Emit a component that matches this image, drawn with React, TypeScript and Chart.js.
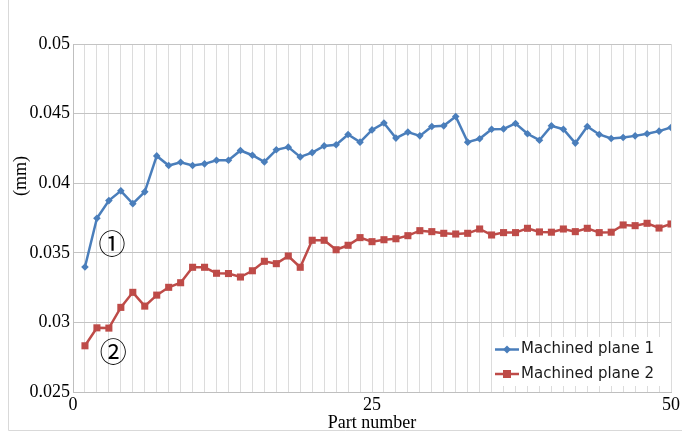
import React, { useEffect, useRef } from "react";
import { Chart, registerables } from "chart.js";

Chart.register(...registerables);

const partNumbers = [
  1, 2, 3, 4, 5, 6, 7, 8, 9, 10, 11, 12, 13, 14, 15, 16, 17, 18, 19, 20, 21, 22, 23, 24, 25,
  26, 27, 28, 29, 30, 31, 32, 33, 34, 35, 36, 37, 38, 39, 40, 41, 42, 43, 44, 45, 46, 47, 48, 49, 50,
];

const plane1 = [
  0.03398, 0.03748, 0.03875, 0.03945, 0.03853, 0.03938, 0.04196, 0.04127, 0.04151, 0.04127,
  0.04139, 0.04165, 0.04165, 0.04235, 0.04201, 0.04153, 0.0424, 0.04259, 0.04189, 0.0422,
  0.04268, 0.04276, 0.0435, 0.04295, 0.04383, 0.04432, 0.04324, 0.04367, 0.0434, 0.04407,
  0.04412, 0.04479, 0.04295, 0.04319, 0.04388, 0.0439, 0.04429, 0.04355, 0.04309, 0.04412,
  0.04388, 0.04288, 0.04407, 0.0435, 0.04321, 0.04328, 0.0434, 0.04355, 0.04374, 0.044,
];

const plane2 = [
  0.02832, 0.02961, 0.02959, 0.03108, 0.03216, 0.03117, 0.03196, 0.03252, 0.03285, 0.03396,
  0.03396, 0.03353, 0.03351, 0.03326, 0.03371, 0.03439, 0.03422, 0.03477, 0.03396, 0.0359,
  0.0359, 0.03522, 0.03554, 0.03609, 0.0358, 0.03594, 0.03601, 0.03623, 0.03659, 0.03652,
  0.0364, 0.03635, 0.0364, 0.03671, 0.03628, 0.03645, 0.03645, 0.03676, 0.0365, 0.03648,
  0.03671, 0.03652, 0.03676, 0.03645, 0.03648, 0.037, 0.03695, 0.03712, 0.03678, 0.03707,
];

const seriesNames = ["Machined plane 1", "Machined plane 2"];
const xLabelValues = [0, 25, 50];
const yMin = 0.025;
const yMax = 0.05;
const yStep = 0.005;
const xMin = 0;
const xMax = 50;
const yTitle = "(mm)";
const xTitle = "Part number";
const annotations = [
  { text: "①", x: 3.26, y: 0.03565 },
  { text: "②", x: 3.37, y: 0.02789 },
];

const BLUE = "#4A7EBB";
const RED = "#BE4B48";
const SERIF = "'Liberation Serif', 'Times New Roman', serif";
const SANS = "'DejaVu Sans', 'Open Sans', sans-serif";

export default function App() {
  const canvasRef = useRef<HTMLCanvasElement | null>(null);

  useEffect(() => {
    const canvas = canvasRef.current;
    if (!canvas) return;

    const overlay = {
      id: "overlay",
      afterDraw(chart: any) {
        const ctx = chart.ctx as CanvasRenderingContext2D;
        const area = chart.chartArea;
        const xs = chart.scales.x;
        const ys = chart.scales.y;
        ctx.save();

        // outer frame
        ctx.strokeStyle = "#d9d9d9";
        ctx.lineWidth = 1;
        ctx.beginPath();
        ctx.moveTo(8.5, 0);
        ctx.lineTo(8.5, 430.5);
        ctx.lineTo(682, 430.5);
        ctx.stroke();

        // y title
        ctx.fillStyle = "#000";
        ctx.font = `18px ${SERIF}`;
        ctx.textAlign = "center";
        ctx.textBaseline = "middle";
        ctx.save();
        ctx.translate(21, 176);
        ctx.rotate(-Math.PI / 2);
        ctx.fillText(yTitle, 0, 0);
        ctx.restore();

        // circled annotations
        ctx.font = `27px 'Noto Sans CJK JP', 'DejaVu Sans', sans-serif`;
        for (const a of annotations) {
          ctx.fillText(a.text, xs.getPixelForValue(a.x), ys.getPixelForValue(a.y));
        }

        // legend
        const lx = area.right - 177;
        const ly = area.bottom - 55;
        ctx.fillStyle = "#fff";
        ctx.fillRect(lx, ly, 177, 49);
        const colors = [BLUE, RED];
        const rows = [ly + 12.5, ly + 37];
        for (let i = 0; i < 2; i++) {
          const y = rows[i];
          ctx.strokeStyle = colors[i];
          ctx.lineWidth = 2.5;
          ctx.beginPath();
          ctx.moveTo(lx + 1, y);
          ctx.lineTo(lx + 25, y);
          ctx.stroke();
          ctx.fillStyle = colors[i];
          const cx = lx + 13;
          if (i === 0) {
            ctx.beginPath();
            ctx.moveTo(cx, y - 4);
            ctx.lineTo(cx + 4, y);
            ctx.lineTo(cx, y + 4);
            ctx.lineTo(cx - 4, y);
            ctx.closePath();
            ctx.fill();
          } else {
            ctx.fillRect(cx - 4, y - 4, 8, 8);
          }
          ctx.fillStyle = "#1a1a1a";
          ctx.font = `15px ${SANS}`;
          ctx.textAlign = "left";
          ctx.textBaseline = "middle";
          ctx.fillText(seriesNames[i], lx + 27, y);
        }
        ctx.restore();
      },
    };

    const chart = new Chart(canvas, {
      type: "line",
      data: {
        datasets: [
          {
            label: seriesNames[0],
            data: partNumbers.map((p, i) => ({ x: p, y: plane1[i] })),
            borderColor: BLUE,
            backgroundColor: BLUE,
            borderWidth: 2.5,
            pointStyle: "rectRot",
            pointRadius: 3.8,
            pointBorderWidth: 0,
            tension: 0,
          },
          {
            label: seriesNames[1],
            data: partNumbers.map((p, i) => ({ x: p, y: plane2[i] })),
            borderColor: RED,
            backgroundColor: RED,
            borderWidth: 2.5,
            pointStyle: "rect",
            pointRadius: 5,
            pointBorderWidth: 0,
            tension: 0,
          },
        ],
      },
      options: {
        responsive: false,
        animation: false,
        devicePixelRatio: 1,
        layout: { padding: { left: 0, right: 9, top: 44, bottom: 0 } },
        plugins: {
          legend: { display: false },
          tooltip: { enabled: false },
          title: { display: false },
        },
        scales: {
          x: {
            type: "linear",
            min: xMin,
            max: xMax,
            afterFit: (s: any) => {
              s.height = 41;
            },
            ticks: {
              stepSize: 1,
              autoSkip: false,
              maxRotation: 0,
              padding: 2,
              color: "#000",
              font: { family: SERIF, size: 18 },
              callback: (v: any) => (xLabelValues.includes(Number(v)) ? String(v) : ""),
            },
            grid: { color: "#dcdcdc", drawTicks: false, lineWidth: 1 },
            border: { color: "#bfbfbf" },
            title: {
              display: true,
              text: xTitle,
              color: "#000",
              font: { family: SERIF, size: 18, lineHeight: 1 },
              padding: { top: 0, bottom: 1 },
            },
          },
          y: {
            min: yMin,
            max: yMax,
            afterFit: (s: any) => {
              s.width = 73;
            },
            ticks: {
              stepSize: yStep,
              padding: 3,
              color: "#000",
              font: { family: SERIF, size: 18 },
              callback: (v: any) => String(Number(Number(v).toFixed(3))),
            },
            grid: { color: "#c4c4c4", drawTicks: false, lineWidth: 1 },
            border: { color: "#bfbfbf" },
          },
        },
      },
      plugins: [overlay],
    });

    return () => chart.destroy();
  }, []);

  return (
    <div style={{ position: "fixed", left: 0, top: 0, width: 682, height: 433, background: "#fff" }}>
      <canvas ref={canvasRef} width={682} height={433} style={{ width: 682, height: 433, display: "block" }} />
    </div>
  );
}
